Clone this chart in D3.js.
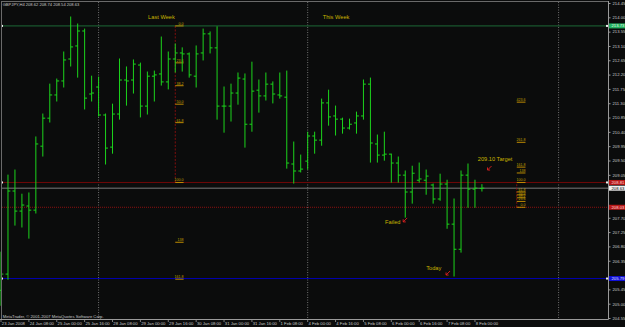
<!DOCTYPE html>
<html><head><meta charset="utf-8">
<script src="https://cdn.jsdelivr.net/npm/d3@7"></script>
<style>html,body{margin:0;padding:0;background:#0b0c0c;overflow:hidden}svg{display:block}</style>
</head><body>
<svg id="c" width="625" height="327"></svg>
<script>
// ---- data (GBPJPY, H4) ----
const opens = [205.42,205.93,208.54,207.91,208.07,207.94,209.95,210.83,211.56,212.00,
212.69,213.10,213.57,211.59,211.81,210.93,209.92,210.96,212.03,212.03,
212.50,211.21,212.15,212.22,211.97,212.69,212.88,212.85,212.15,212.88,
213.48,213.04,211.21,211.21,211.62,212.06,210.64,211.71,211.53,211.90,
211.56,211.49,209.39,209.17,209.48,210.27,210.14,211.31,210.90,210.80,
210.52,210.68,210.90,211.90,210.02,209.67,209.70,209.42,209.04,208.51,
208.88,208.88,208.73,208.29,208.76,207.50,206.71,209.04,208.60,208.62];
const highs = [206.62,209.04,209.20,208.44,208.48,210.24,210.96,211.90,212.06,212.91,
214.01,213.79,213.63,212.15,212.12,210.96,211.27,212.69,212.44,212.66,
212.56,212.28,212.31,213.38,212.91,213.16,213.04,212.88,213.10,213.63,
213.54,213.70,211.81,211.90,212.25,212.22,212.59,212.03,212.25,211.97,
212.25,212.31,210.08,209.67,210.39,210.39,211.43,211.71,211.21,210.83,
210.80,211.02,212.03,212.09,210.30,210.39,209.70,209.61,209.17,209.32,
209.42,209.20,208.76,209.07,208.88,208.29,209.17,209.39,208.88,208.74];
const lows = [204.95,205.77,207.47,207.41,207.06,207.85,209.64,210.71,211.37,211.81,
212.47,212.12,211.12,211.37,210.90,209.39,209.73,210.80,211.24,211.62,
210.87,210.96,211.37,211.87,211.75,212.28,212.31,212.12,211.81,212.66,
212.88,210.80,210.39,210.74,211.27,209.92,210.42,211.02,211.40,211.31,
211.46,209.26,208.79,209.14,209.23,209.73,209.98,210.61,210.30,210.36,
210.49,210.36,210.80,209.45,209.45,209.51,208.82,208.82,207.72,208.16,
208.82,208.44,208.16,208.25,207.37,205.87,206.62,208.03,208.03,208.54];
const closes = [205.93,208.54,207.91,208.10,207.94,210.02,210.83,211.56,212.00,212.66,
213.07,213.57,211.46,211.62,210.93,209.89,210.96,212.03,212.00,212.53,
211.21,212.15,212.19,211.97,212.69,212.88,212.85,212.19,212.85,213.48,
213.04,211.21,211.21,211.62,212.09,210.64,211.68,211.53,211.90,211.59,
211.53,209.42,209.17,209.23,210.27,210.14,211.31,210.87,210.80,210.52,
210.64,210.90,211.90,210.05,209.67,209.70,209.42,209.04,208.51,209.10,
208.92,209.01,208.29,208.76,207.50,206.71,209.04,208.60,208.63,208.63];

const timeLabels = ["23 Jan 2008","24 Jan 08:00","25 Jan 00:00","25 Jan 16:00","28 Jan 08:00","29 Jan 00:00",
"29 Jan 16:00","30 Jan 08:00","31 Jan 00:00","31 Jan 16:00","1 Feb 08:00","4 Feb 00:00","4 Feb 16:00",
"5 Feb 08:00","6 Feb 00:00","6 Feb 16:00","7 Feb 08:00","8 Feb 00:00"];
const timeLabelBars = [0,4,8,12,16,20,24,28,32,36,40,44,48,52,56,60,64,68];
const priceTicks = [214.45,214.00,213.55,213.10,212.65,212.20,211.75,211.30,210.85,210.40,209.95,209.50,
209.05,208.60,208.15,207.70,207.25,206.80,206.35,205.90,205.45,205.00,204.55];
const separatorBars = [14,44,80];

const hLineNames = ["high","res","bid","sup","low"];
const hLinePrices = [213.73,208.81,208.63,208.03,205.79];

const fib1Labels = ["0.0","23.6","38.2","50.0","61.8","100.0","138","161.8"];
const fib1Ratios = [0,0.236,0.382,0.5,0.618,1,1.382,1.618];
const fib1Anchor = [213.73,208.81];
const fib2Labels = ["0.0","23.6","38.2","50.0","61.8","100.0","138","161.8","261.8","423.6"];
const fib2Ratios = [0,0.236,0.382,0.5,0.618,1,1.382,1.618,2.618,4.236];
const fib2Anchor = [208.03,208.81];

const noteTexts = ["Last Week","This Week","209.10  Target","Failed","Today"];
const noteBars = [21.1,46.15,68.4,55.1,61.0];
const notePrices = [213.96,213.96,209.50,207.50,206.06];
const arrowBars = [69.8,57.7,63.85];
const arrowPrices = [209.20,207.57,205.90];

const header = "GBPJPY,H4  208.62 208.74 208.54 208.63";
const copyright = "MetaTrader, \u00A9 2001-2007 MetaQuotes Software Corp.";

// ---- drawing ----
const svg = d3.select("#c");
const FONT = "'Liberation Sans', Arial, sans-serif";
const x = d3.scaleLinear().domain([0, 80]).range([1, 558.6]);
const y = d3.scaleLinear().domain([204.55, 214.45]).range([318, 3]);
const plotR = 608.5, plotB = 319.5;

svg.append("rect").attr("width",625).attr("height",327).attr("fill","#0b0c0c");

// separators
svg.selectAll(".sep").data(separatorBars).enter().append("line")
  .attr("x1",d=>x(d)).attr("x2",d=>x(d)).attr("y1",2).attr("y2",plotB)
  .attr("stroke","#8a8a8a").attr("stroke-width",0.8).attr("stroke-dasharray","1,1.5");

// horizontal lines
const hStyle = {
  high:{c:"#1d6a36",dash:null,box:"#23b060",txt:"#e8ffe8"},
  res:{c:"#700808",dash:null,box:"#b81818",txt:"#ffd8d8"},
  bid:{c:"#7a7a7a",dash:null,box:"#f0f0f0",txt:"#000"},
  sup:{c:"#8a1010",dash:"1,1",box:"#b81818",txt:"#ffd8d8"},
  low:{c:"#0000b0",dash:null,box:"#1010d8",txt:"#e0e0ff"}
};
hLineNames.forEach((n,i)=>{
  const s=hStyle[n];
  svg.append("line").attr("x1",2).attr("x2",plotR).attr("y1",y(hLinePrices[i])).attr("y2",y(hLinePrices[i]))
    .attr("stroke",s.c).attr("stroke-width",1).attr("stroke-dasharray",s.dash);
});

// fib trend lines (dashed red)
svg.append("line").attr("x1",x(25)).attr("x2",x(25)).attr("y1",y(fib1Anchor[0])).attr("y2",y(fib1Anchor[1]))
  .attr("stroke","#a01010").attr("stroke-width",0.8).attr("stroke-dasharray","2,1.5");
svg.append("line").attr("x1",x(74)).attr("x2",x(74)).attr("y1",y(fib2Anchor[0])).attr("y2",y(fib2Anchor[1]))
  .attr("stroke","#a01010").attr("stroke-width",0.8).attr("stroke-dasharray","2,1.5");

function drawFib(labels, ratios, anchor, b0, b1){
  const lv = ratios.map(r=>anchor[0]+(anchor[1]-anchor[0])*r);
  const g = svg.append("g");
  g.selectAll("line").data(lv).enter().append("line")
    .attr("x1",x(b0)).attr("x2",x(b1)).attr("y1",d=>y(d)).attr("y2",d=>y(d))
    .attr("stroke","#d49a00").attr("stroke-width",0.9);
  g.selectAll("text").data(lv).enter().append("text")
    .attr("x",x(b1)).attr("y",d=>y(d)-1.0).attr("text-anchor","end")
    .attr("font-family",FONT).attr("font-size",3.6).attr("fill","#c0a000")
    .text((d,i)=>labels[i]);
}
drawFib(fib1Labels, fib1Ratios, fib1Anchor, 25, 26.2);
drawFib(fib2Labels, fib2Ratios, fib2Anchor, 74, 75.25);

// OHLC bars
const bars = svg.append("g").attr("stroke","#1cd41c").attr("stroke-width",1);
opens.forEach((o,i)=>{
  const cx = x(i);
  bars.append("line").attr("x1",cx).attr("x2",cx).attr("y1",y(highs[i])-0.5).attr("y2",y(lows[i])+0.5);
  bars.append("line").attr("x1",cx-2.4).attr("x2",cx).attr("y1",y(o)).attr("y2",y(o));
  bars.append("line").attr("x1",cx).attr("x2",cx+2.4).attr("y1",y(closes[i])).attr("y2",y(closes[i]));
});

// line anchor squares
[0,1,4].forEach(i=>{
  [2,607].forEach(px=>{
    svg.append("rect").attr("x",px-1).attr("y",y(hLinePrices[i])-1).attr("width",2).attr("height",2).attr("fill","#f0f0f0");
  });
});

// frame
svg.append("line").attr("x1",1.5).attr("x2",1.5).attr("y1",1).attr("y2",plotB).attr("stroke","#6a6a6a");
svg.append("line").attr("x1",1).attr("x2",plotR).attr("y1",1.5).attr("y2",1.5).attr("stroke","#6a6a6a");
svg.append("line").attr("x1",0).attr("x2",plotR).attr("y1",plotB).attr("y2",plotB).attr("stroke","#9a9a9a");

// right axis (tick labels hidden under price boxes are dropped, as in the terminal)
const boxYs = hLinePrices.map(p=>y(p));
const visibleTicks = priceTicks.filter(t=>boxYs.every(b=>Math.abs(y(t)-b)>4.6));
const ya = svg.append("g").attr("transform",`translate(${plotR},0)`)
  .call(d3.axisRight(y).tickValues(visibleTicks).tickSize(2).tickPadding(2).tickFormat(d3.format(".2f")));
ya.select(".domain").attr("stroke","#9a9a9a").attr("d",`M0,1V${plotB}`);
ya.selectAll(".tick line").attr("stroke","#9a9a9a");
ya.selectAll("text").attr("fill","#c8c8c8").attr("font-family",FONT).attr("font-size",4.2);

// price boxes
hLineNames.forEach((n,i)=>{
  const s=hStyle[n], py=y(hLinePrices[i]);
  svg.append("rect").attr("x",609).attr("y",py-2.5).attr("width",16).attr("height",5).attr("fill",s.box);
  svg.append("text").attr("x",611.5).attr("y",py+1.5).attr("font-family",FONT).attr("font-size",4.2)
    .attr("fill",s.txt).text(d3.format(".2f")(hLinePrices[i]));
});

// bottom time axis
const tg = svg.append("g");
tg.selectAll("line").data(timeLabelBars).enter().append("line")
  .attr("x1",d=>x(d)).attr("x2",d=>x(d)).attr("y1",plotB).attr("y2",plotB+2.5).attr("stroke","#9a9a9a").attr("stroke-width",0.8);
tg.selectAll("text").data(timeLabelBars).enter().append("text")
  .attr("x",d=>x(d)+0.8).attr("y",325.3).attr("font-family",FONT).attr("font-size",4.2).attr("fill","#c8c8c8")
  .text((d,i)=>timeLabels[i]);

// header & copyright
svg.append("text").attr("x",2.7).attr("y",6.1).attr("font-family",FONT).attr("font-size",4.1).attr("fill","#c8c8c8").text(header);
svg.append("text").attr("x",2.7).attr("y",317.6).attr("font-family",FONT).attr("font-size",4.2).attr("fill","#c8c8c8").text(copyright);

// notes
noteTexts.forEach((t,i)=>{
  svg.append("text").attr("x",x(noteBars[i])).attr("y",y(notePrices[i]))
    .attr("font-family",FONT).attr("font-size",5.7).attr("fill","#c8b400").text(t);
});
// arrows
arrowBars.forEach((b,i)=>{
  const ax=x(b), ay=y(arrowPrices[i]);
  svg.append("path").attr("d",`M${ax+4},${ay-4}L${ax},${ay}M${ax},${ay-2.6}L${ax},${ay}L${ax+2.6},${ay}`)
    .attr("stroke","#e02020").attr("stroke-width",0.9).attr("fill","none");
});
</script>
</body></html>
